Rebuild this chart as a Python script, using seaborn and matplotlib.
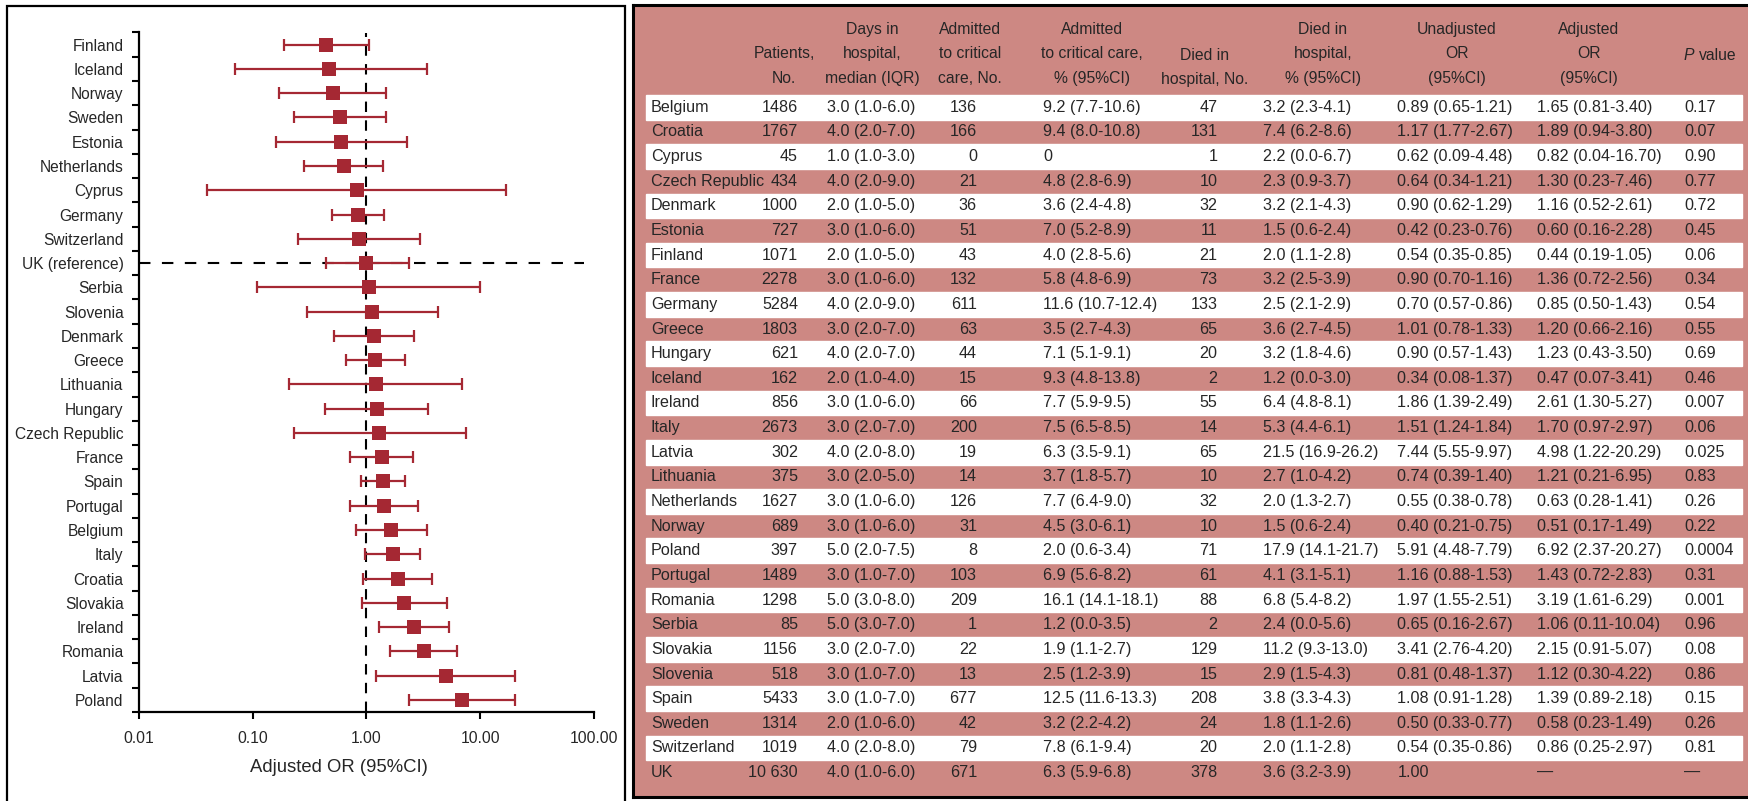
import numpy as np
import pandas as pd
import matplotlib
matplotlib.use('Agg')
import matplotlib.pyplot as plt
import seaborn as sns
from matplotlib.patches import Rectangle
from matplotlib.ticker import NullLocator

# ---- forest plot data (adjusted OR, sorted) ----
forest_countries = ['Finland', 'Iceland', 'Norway', 'Sweden', 'Estonia', 'Netherlands', 'Cyprus',
                    'Germany', 'Switzerland', 'UK (reference)', 'Serbia', 'Slovenia', 'Denmark',
                    'Greece', 'Lithuania', 'Hungary', 'Czech Republic', 'France', 'Spain',
                    'Portugal', 'Belgium', 'Italy', 'Croatia', 'Slovakia', 'Ireland', 'Romania',
                    'Latvia', 'Poland']
forest_or = [0.44, 0.47, 0.51, 0.58, 0.60, 0.63, 0.82, 0.85, 0.86, 1.00, 1.06, 1.12, 1.16, 1.20,
             1.21, 1.23, 1.30, 1.36, 1.39, 1.43, 1.65, 1.70, 1.89, 2.15, 2.61, 3.19, 4.98, 6.92]
forest_lo = [0.19, 0.07, 0.17, 0.23, 0.16, 0.28, 0.04, 0.50, 0.25, 0.44, 0.11, 0.30, 0.52, 0.66,
             0.21, 0.43, 0.23, 0.72, 0.89, 0.72, 0.81, 0.97, 0.94, 0.91, 1.30, 1.61, 1.22, 2.37]
forest_hi = [1.05, 3.41, 1.49, 1.49, 2.28, 1.41, 16.70, 1.43, 2.97, 2.38, 10.04, 4.22, 2.61, 2.16,
             6.95, 3.50, 7.46, 2.56, 2.18, 2.83, 3.40, 2.97, 3.80, 5.07, 5.27, 6.29, 20.29, 20.27]
x_ticks = [0.01, 0.1, 1, 10, 100]
x_ticklabels = ['0.01', '0.10', '1.00', '10.00', '100.00']

# ---- table data ----
table_countries = ['Belgium', 'Croatia', 'Cyprus', 'Czech Republic', 'Denmark', 'Estonia', 'Finland',
                   'France', 'Germany', 'Greece', 'Hungary', 'Iceland', 'Ireland', 'Italy', 'Latvia',
                   'Lithuania', 'Netherlands', 'Norway', 'Poland', 'Portugal', 'Romania', 'Serbia',
                   'Slovakia', 'Slovenia', 'Spain', 'Sweden', 'Switzerland', 'UK']
patients = ['1486', '1767', '45', '434', '1000', '727', '1071', '2278', '5284', '1803', '621', '162',
            '856', '2673', '302', '375', '1627', '689', '397', '1489', '1298', '85', '1156', '518',
            '5433', '1314', '1019', '10 630']
days_iqr = ['3.0 (1.0-6.0)', '4.0 (2.0-7.0)', '1.0 (1.0-3.0)', '4.0 (2.0-9.0)', '2.0 (1.0-5.0)',
            '3.0 (1.0-6.0)', '2.0 (1.0-5.0)', '3.0 (1.0-6.0)', '4.0 (2.0-9.0)', '3.0 (2.0-7.0)',
            '4.0 (2.0-7.0)', '2.0 (1.0-4.0)', '3.0 (1.0-6.0)', '3.0 (2.0-7.0)', '4.0 (2.0-8.0)',
            '3.0 (2.0-5.0)', '3.0 (1.0-6.0)', '3.0 (1.0-6.0)', '5.0 (2.0-7.5)', '3.0 (1.0-7.0)',
            '5.0 (3.0-8.0)', '5.0 (3.0-7.0)', '3.0 (2.0-7.0)', '3.0 (1.0-7.0)', '3.0 (1.0-7.0)',
            '2.0 (1.0-6.0)', '4.0 (2.0-8.0)', '4.0 (1.0-6.0)']
icu_no = ['136', '166', '0', '21', '36', '51', '43', '132', '611', '63', '44', '15', '66', '200',
          '19', '14', '126', '31', '8', '103', '209', '1', '22', '13', '677', '42', '79', '671']
icu_pct = ['9.2 (7.7-10.6)', '9.4 (8.0-10.8)', '0', '4.8 (2.8-6.9)', '3.6 (2.4-4.8)',
           '7.0 (5.2-8.9)', '4.0 (2.8-5.6)', '5.8 (4.8-6.9)', '11.6 (10.7-12.4)', '3.5 (2.7-4.3)',
           '7.1 (5.1-9.1)', '9.3 (4.8-13.8)', '7.7 (5.9-9.5)', '7.5 (6.5-8.5)', '6.3 (3.5-9.1)',
           '3.7 (1.8-5.7)', '7.7 (6.4-9.0)', '4.5 (3.0-6.1)', '2.0 (0.6-3.4)', '6.9 (5.6-8.2)',
           '16.1 (14.1-18.1)', '1.2 (0.0-3.5)', '1.9 (1.1-2.7)', '2.5 (1.2-3.9)',
           '12.5 (11.6-13.3)', '3.2 (2.2-4.2)', '7.8 (6.1-9.4)', '6.3 (5.9-6.8)']
died_no = ['47', '131', '1', '10', '32', '11', '21', '73', '133', '65', '20', '2', '55', '14', '65',
           '10', '32', '10', '71', '61', '88', '2', '129', '15', '208', '24', '20', '378']
died_pct = ['3.2 (2.3-4.1)', '7.4 (6.2-8.6)', '2.2 (0.0-6.7)', '2.3 (0.9-3.7)', '3.2 (2.1-4.3)',
            '1.5 (0.6-2.4)', '2.0 (1.1-2.8)', '3.2 (2.5-3.9)', '2.5 (2.1-2.9)', '3.6 (2.7-4.5)',
            '3.2 (1.8-4.6)', '1.2 (0.0-3.0)', '6.4 (4.8-8.1)', '5.3 (4.4-6.1)', '21.5 (16.9-26.2)',
            '2.7 (1.0-4.2)', '2.0 (1.3-2.7)', '1.5 (0.6-2.4)', '17.9 (14.1-21.7)', '4.1 (3.1-5.1)',
            '6.8 (5.4-8.2)', '2.4 (0.0-5.6)', '11.2 (9.3-13.0)', '2.9 (1.5-4.3)', '3.8 (3.3-4.3)',
            '1.8 (1.1-2.6)', '2.0 (1.1-2.8)', '3.6 (3.2-3.9)']
unadj_or = ['0.89 (0.65-1.21)', '1.17 (1.77-2.67)', '0.62 (0.09-4.48)', '0.64 (0.34-1.21)',
            '0.90 (0.62-1.29)', '0.42 (0.23-0.76)', '0.54 (0.35-0.85)', '0.90 (0.70-1.16)',
            '0.70 (0.57-0.86)', '1.01 (0.78-1.33)', '0.90 (0.57-1.43)', '0.34 (0.08-1.37)',
            '1.86 (1.39-2.49)', '1.51 (1.24-1.84)', '7.44 (5.55-9.97)', '0.74 (0.39-1.40)',
            '0.55 (0.38-0.78)', '0.40 (0.21-0.75)', '5.91 (4.48-7.79)', '1.16 (0.88-1.53)',
            '1.97 (1.55-2.51)', '0.65 (0.16-2.67)', '3.41 (2.76-4.20)', '0.81 (0.48-1.37)',
            '1.08 (0.91-1.28)', '0.50 (0.33-0.77)', '0.54 (0.35-0.86)', '1.00']
adj_or = ['1.65 (0.81-3.40)', '1.89 (0.94-3.80)', '0.82 (0.04-16.70)', '1.30 (0.23-7.46)',
          '1.16 (0.52-2.61)', '0.60 (0.16-2.28)', '0.44 (0.19-1.05)', '1.36 (0.72-2.56)',
          '0.85 (0.50-1.43)', '1.20 (0.66-2.16)', '1.23 (0.43-3.50)', '0.47 (0.07-3.41)',
          '2.61 (1.30-5.27)', '1.70 (0.97-2.97)', '4.98 (1.22-20.29)', '1.21 (0.21-6.95)',
          '0.63 (0.28-1.41)', '0.51 (0.17-1.49)', '6.92 (2.37-20.27)', '1.43 (0.72-2.83)',
          '3.19 (1.61-6.29)', '1.06 (0.11-10.04)', '2.15 (0.91-5.07)', '1.12 (0.30-4.22)',
          '1.39 (0.89-2.18)', '0.58 (0.23-1.49)', '0.86 (0.25-2.97)', '—']
p_values = ['0.17', '0.07', '0.90', '0.77', '0.72', '0.45', '0.06', '0.34', '0.54', '0.55', '0.69',
            '0.46', '0.007', '0.06', '0.025', '0.83', '0.26', '0.22', '0.0004', '0.31', '0.001',
            '0.96', '0.08', '0.86', '0.15', '0.26', '0.81', '—']

RED = '#a52833'
SALMON = '#cd8883'

sns.set_style('ticks')
plt.rcParams['font.family'] = ['Liberation Sans', 'DejaVu Sans']

W, H = 1749, 801
fig = plt.figure(figsize=(W / 100, H / 100), dpi=100)

# ================= forest plot =================
df = pd.DataFrame({'country': forest_countries, 'or': forest_or,
                   'lo': forest_lo, 'hi': forest_hi})
df['row'] = np.arange(len(df))

ax = fig.add_axes([138.9 / W, 1 - 712 / H, (594 - 138.9) / W, (712 - 32.5) / H])
uk_row = df.index[df['country'].str.startswith('UK')][0]

ax.axvline(1, color='black', lw=1.5, ls=(0, (5, 4)), zorder=1)
ax.axhline(uk_row, xmin=0, xmax=0.979, color='black', lw=1.5, ls=(0, (5.5, 5.5)), zorder=1)
ax.errorbar(df['or'], df['row'], xerr=[df['or'] - df['lo'], df['hi'] - df['or']],
            fmt='none', ecolor=RED, elinewidth=1.6, capsize=4, capthick=1.6, zorder=2)
sns.scatterplot(data=df, x='or', y='row', marker='s', s=100, color=RED,
                linewidth=0, ax=ax, zorder=3)

ax.set_xscale('log')
ax.set_xlim(0.01, 100)
ax.set_xticks(x_ticks)
ax.set_xticklabels(x_ticklabels, fontsize=11.3)
ax.xaxis.set_minor_locator(NullLocator())
ax.set_ylim(len(df) - 0.5, -0.5)
ax.set_yticks(np.arange(-0.5, len(df), 1.0))
ax.set_yticklabels([])
ax.set_yticks(df['row'], minor=True)
ax.set_yticklabels(df['country'], minor=True, fontsize=11.2)
ax.tick_params(axis='y', which='minor', length=0, pad=11)
ax.tick_params(axis='y', which='major', length=5, width=1.5, color='black')
ax.tick_params(axis='x', which='major', length=5, width=1.5, color='black', pad=9)
ax.set_xlabel('')
ax.set_ylabel('')
for s in ['top', 'right']:
    ax.spines[s].set_visible(False)
for s in ['left', 'bottom']:
    ax.spines[s].set_linewidth(1.6)
    ax.spines[s].set_color('black')
ax.set_facecolor('none')
fig.text(339 / W, 1 - 768 / H, 'Adjusted OR (95%CI)', fontsize=13.3, ha='center', va='center')

# left panel frame
fig.add_artist(Rectangle((7.5 / W, -0.02), (625 - 7.5) / W, 1 - 5.5 / H + 0.02,
                         transform=fig.transFigure, fill=False, lw=1.6, ec='black'))

# ================= table =================
x0, x1 = 633, W + 8
y_top, y_bot = 5, 797
ax2 = fig.add_axes([x0 / W, 1 - y_bot / H, (x1 - x0) / W, (y_bot - y_top) / H])
ax2.set_xlim(x0, x1)
ax2.set_ylim(y_bot, y_top)
ax2.set_facecolor(SALMON)
ax2.set_xticks([])
ax2.set_yticks([])
for s in ['top', 'left', 'bottom']:
    ax2.spines[s].set_linewidth(2.2)
    ax2.spines[s].set_color('black')
ax2.spines['right'].set_visible(False)

row0, dy = 107.3, 24.64
row_y = row0 + dy * np.arange(len(table_countries))
white = np.arange(len(table_countries)) % 2 == 0
ax2.barh(row_y[white], width=1741.7 - 646, left=646, height=dy, color='white', zorder=1)

fs = 11.6
hfs = 11.3
# header lines
h1, h2, h3 = 29.5, 53.5, 78.5
headers = [
    (784, [(h2, 'Patients,'), (h3, 'No.')]),
    (872, [(h1, 'Days in'), (h2, 'hospital,'), (h3, 'median (IQR)')]),
    (970, [(h1, 'Admitted'), (h2, 'to critical'), (h3, 'care, No.')]),
    (1092, [(h1, 'Admitted'), (h2, 'to critical care,'), (h3, '% (95%CI)')]),
    (1205, [(56, 'Died in'), (80, 'hospital, No.')]),
    (1323, [(h1, 'Died in'), (h2, 'hospital,'), (h3, '% (95%CI)')]),
    (1457, [(h1, 'Unadjusted'), (h2, 'OR'), (h3, '(95%CI)')]),
    (1589, [(h1, 'Adjusted'), (h2, 'OR'), (h3, '(95%CI)')]),
]
for cx, lines in headers:
    for yy, txt in lines:
        ax2.text(cx, yy, txt, ha='center', va='center', fontsize=hfs, zorder=3)
ax2.text(1684, 56, 'P', ha='left', va='center', fontsize=hfs, style='italic', zorder=3)
ax2.text(1699, 56, 'value', ha='left', va='center', fontsize=hfs, zorder=3)

columns = [
    (table_countries, 651, 'left'),
    (patients, 798, 'right'),
    (days_iqr, 871.5, 'center'),
    (icu_no, 977, 'right'),
    (icu_pct, 1043.3, 'left'),
    (died_no, 1217.3, 'right'),
    (died_pct, 1263.3, 'left'),
    (unadj_or, 1397.3, 'left'),
    (adj_or, 1536.7, 'left'),
    (p_values, 1684, 'left'),
]
for values, cx, ha in columns:
    for yy, txt in zip(row_y, values):
        ax2.text(cx, yy, txt, ha=ha, va='center', fontsize=fs, zorder=3)

fig.savefig('out.png', dpi=100)
